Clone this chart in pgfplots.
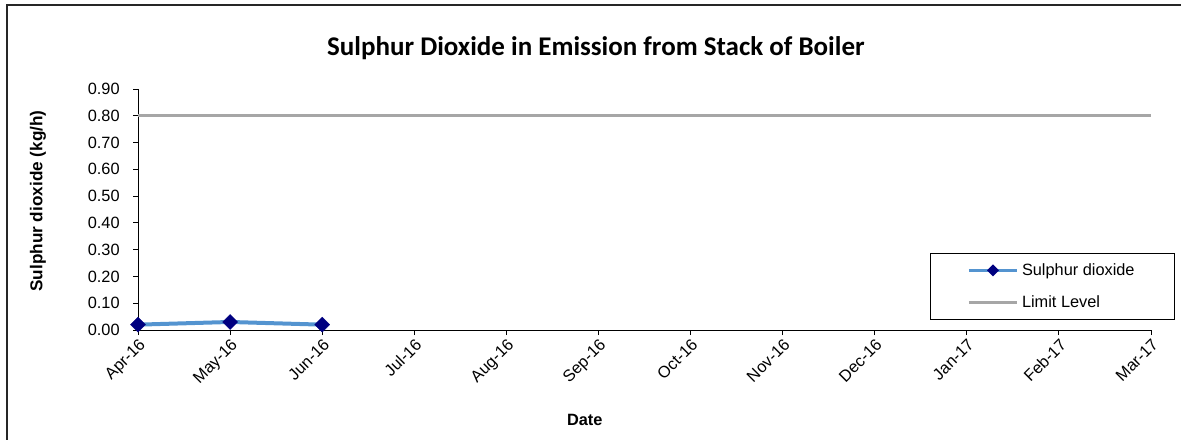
\documentclass[border=0pt]{standalone}
\usepackage{fontspec}
\setmainfont{Liberation Sans}
\newfontfamily\titlefont{Carlito}
\usepackage{pgfplots}
\pgfplotsset{compat=1.18}

\definecolor{so2line}{RGB}{84,148,208}
\definecolor{so2mark}{RGB}{0,0,128}
\definecolor{limitgray}{RGB}{166,166,166}

\newcommand\tickfont{\fontsize{9.8}{11}\selectfont}

\begin{document}
\begin{tikzpicture}
% page = 1181 x 439 px, 1 px = 0.6pt
\useasboundingbox (0pt,0pt) rectangle (708.6pt,263.4pt);
\draw[black!85,line width=0.9pt] (4.2pt,-6pt) rectangle (715pt,260.4pt);
\begin{axis}[
  at={(82.8pt,65.4pt)}, anchor=south west,
  scale only axis,
  width=607.8pt, height=144.6pt,
  xmin=0, xmax=11,
  ymin=0, ymax=0.9,
  axis lines*=left,
  axis line style={line width=0.6pt},
  tick style={black,line width=0.6pt},
  tick align=outside,
  major tick length=3pt,
  xtick={0,1,2,3,4,5,6,7,8,9,10,11},
  xticklabels={Apr-16,May-16,Jun-16,Jul-16,Aug-16,Sep-16,Oct-16,Nov-16,Dec-16,Jan-17,Feb-17,Mar-17},
  xticklabel style={rotate=45,anchor=north east,font=\tickfont,inner sep=1pt},
  ytick={0,0.1,0.2,0.3,0.4,0.5,0.6,0.7,0.8,0.9},
  yticklabel style={font=\tickfont,xshift=-4.5pt,/pgf/number format/fixed,/pgf/number format/fixed zerofill,/pgf/number format/precision=2},
  /pgf/number format/assume math mode=true,
  title={Sulphur Dioxide in Emission from Stack of Boiler},
  title style={font=\titlefont\fontsize{16.2}{18}\bfseries, at={(0.452,1.129)}, anchor=center},
  xlabel={Date},
  xlabel style={font=\fontsize{9.8}{11}\bfseries, at={(0.441,-0.373)}, anchor=center},
  ylabel={Sulphur dioxide (kg/h)},
  ylabel style={font=\fontsize{10.3}{12}\bfseries, at={(-0.0987,0.535)}, anchor=center, rotate=0},
  legend style={at={(0.782,0.3195)}, anchor=north west, draw=black, line width=0.6pt,
    font=\tickfont, inner xsep=22pt, inner ysep=3.8pt, row sep=6.6pt},
  legend cell align=left,
  clip=false,
]
\addplot[color=so2line, line width=2.4pt, mark=square*, mark size=3.2pt,
  mark options={fill=so2mark, draw=so2mark, rotate=45, line width=0.2pt},
  legend image code/.code={
    \draw[color=so2line, line width=1.8pt] (0pt,0pt) -- (29pt,0pt);
    \fill[so2mark] (14.5pt,1.9pt) -- (16.4pt,0pt) -- (14.5pt,-1.9pt) -- (12.6pt,0pt) -- cycle;
  }]
  coordinates {(0,0.02) (1,0.03) (2,0.02)};
\addlegendentry{Sulphur dioxide}
\addplot[color=limitgray, line width=1.8pt,
  legend image code/.code={\draw[color=limitgray, line width=1.8pt] (0pt,0pt) -- (29pt,0pt);}]
  coordinates {(0,0.8) (11,0.8)};
\addlegendentry{Limit Level}
\end{axis}
\end{tikzpicture}
\end{document}
